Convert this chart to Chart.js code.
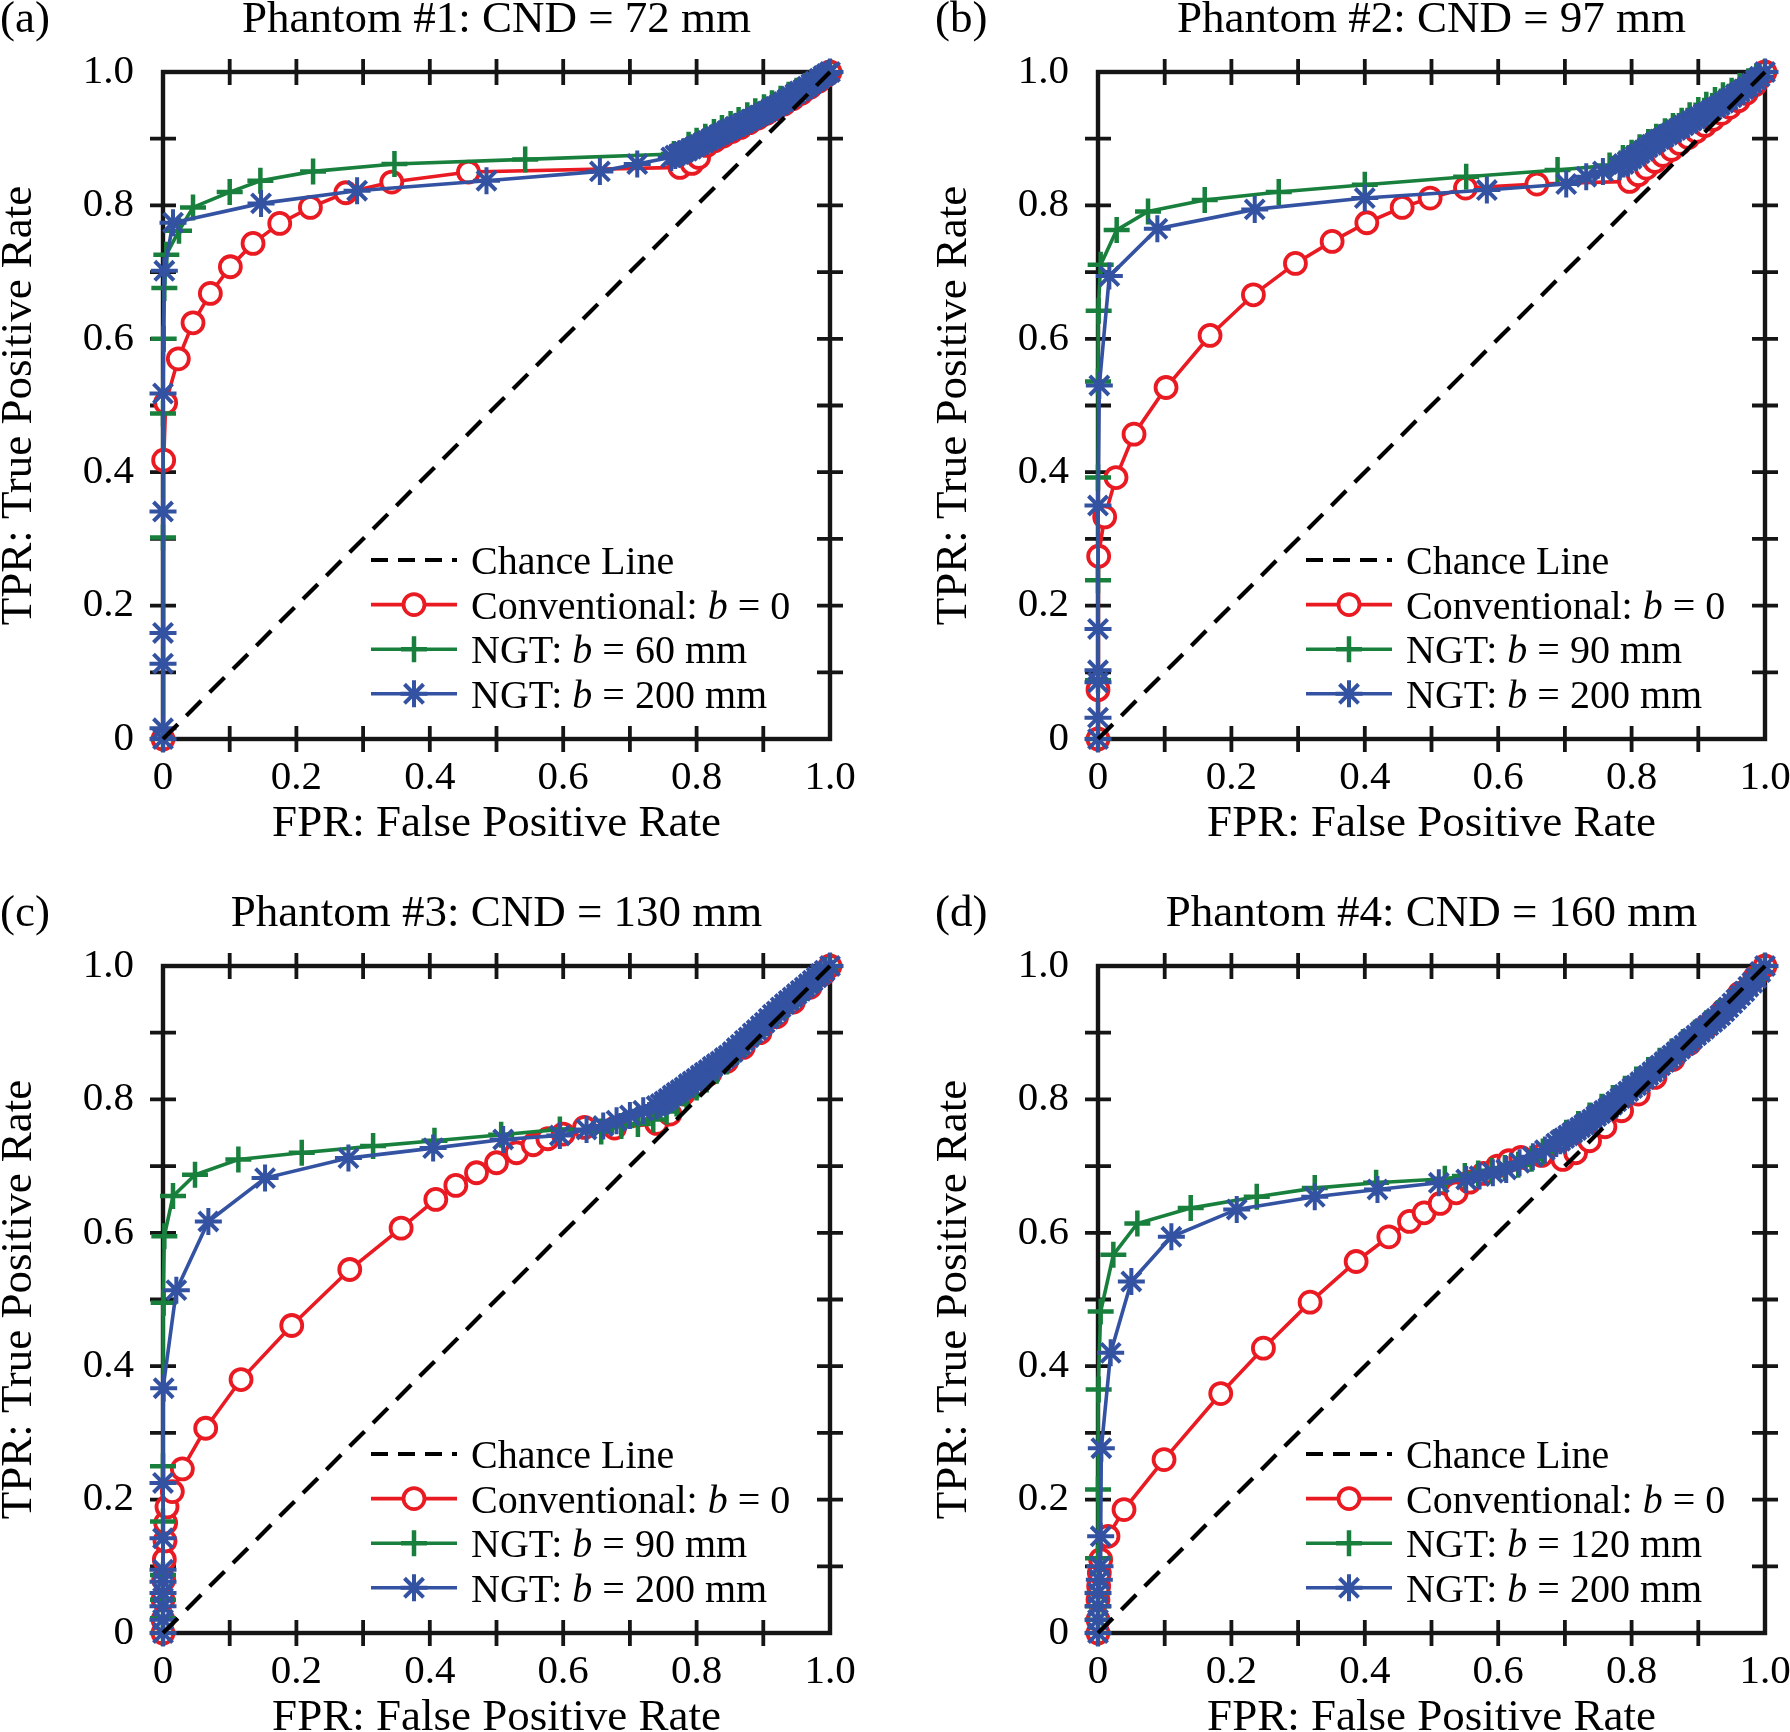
<!DOCTYPE html>
<html>
<head>
<meta charset="utf-8">
<title>ROC curves, phantoms 1-4</title>
<script src="https://cdn.jsdelivr.net/npm/chart.js@4.4.1/dist/chart.umd.min.js"></script>
<style>
  html, body { margin: 0; padding: 0; background: #fff; }
  body { width: 1790px; height: 1732px; position: relative; overflow: hidden; }
  canvas { position: absolute; }
</style>
</head>
<body>
<canvas id="panelA" width="855" height="850" style="left:0px;top:0px"></canvas>
<canvas id="panelB" width="855" height="850" style="left:935px;top:0px"></canvas>
<canvas id="panelC" width="855" height="850" style="left:0px;top:894px"></canvas>
<canvas id="panelD" width="855" height="850" style="left:935px;top:894px"></canvas>
<script>
// ---- data: [FPR, TPR] pairs ----
const panelTags = ['(a)', '(b)', '(c)', '(d)'];
const panelTitles = [
  'Phantom #1: CND = 72 mm',
  'Phantom #2: CND = 97 mm',
  'Phantom #3: CND = 130 mm',
  'Phantom #4: CND = 160 mm'
];
const ngtWidths = ['60 mm', '90 mm', '90 mm', '120 mm'];
const axisTickLabels = ['0', '', '0.2', '', '0.4', '', '0.6', '', '0.8', '', '1.0'];
const chanceLine = [[0, 0], [1, 1]];

// Phantom #1
const convA = [[0,0],[0.001,0.418],[0.004,0.504],[0.023,0.570],[0.045,0.624],[0.071,0.668],[0.101,0.708],[0.135,0.743],[0.175,0.773],[0.221,0.797],[0.274,0.819],[0.343,0.835],[0.458,0.850],[0.775,0.857],[0.793,0.863],[0.803,0.872],[0.815,0.890],[0.827,0.897],[0.840,0.904],[0.853,0.911],[0.866,0.917],[0.879,0.924],[0.892,0.931],[0.905,0.938],[0.918,0.945],[0.931,0.952],[0.944,0.960],[0.957,0.968],[0.970,0.977],[0.983,0.986],[0.995,0.995],[1,1]];
const ngtA = [[0,0],[0,0.302],[0,0.488],[0.001,0.600],[0.002,0.676],[0.005,0.726],[0.024,0.762],[0.045,0.797],[0.100,0.820],[0.146,0.837],[0.225,0.851],[0.347,0.862],[0.543,0.869],[0.766,0.877],[0.788,0.891],[0.800,0.897],[0.813,0.903],[0.826,0.910],[0.838,0.916],[0.851,0.922],[0.863,0.928],[0.876,0.935],[0.888,0.941],[0.901,0.947],[0.913,0.953],[0.926,0.960],[0.938,0.966],[0.950,0.972],[0.963,0.979],[0.975,0.985],[0.988,0.992],[1,1]];
const ngt200A = [[0,0],[0,0.016],[0,0.113],[0,0.159],[0,0.341],[0,0.518],[0.002,0.702],[0.015,0.774],[0.147,0.803],[0.291,0.822],[0.485,0.837],[0.655,0.851],[0.711,0.862],[0.762,0.872],
  [0.768,0.875],[0.774,0.877],[0.780,0.880],[0.786,0.882],[0.792,0.885],[0.798,0.888],[0.804,0.891],[0.810,0.894],[0.816,0.897],[0.822,0.900],[0.828,0.903],[0.834,0.906],[0.840,0.909],[0.846,0.912],[0.852,0.915],[0.858,0.918],[0.864,0.920],[0.870,0.923],[0.876,0.926],[0.882,0.929],[0.888,0.932],[0.894,0.935],[0.900,0.938],[0.906,0.941],[0.912,0.945],[0.918,0.948],[0.924,0.951],[0.930,0.955],[0.936,0.959],[0.942,0.963],[0.948,0.967],[0.954,0.971],[0.960,0.974],[0.966,0.978],[0.972,0.982],[0.978,0.986],[0.984,0.990],[0.990,0.994],[0.995,0.997],[1,1]];

// Phantom #2
const convB = [[0,0],[0,0.074],[0.001,0.274],[0.010,0.333],[0.027,0.392],[0.054,0.457],[0.102,0.527],[0.168,0.605],[0.233,0.666],[0.296,0.713],[0.351,0.746],[0.403,0.774],[0.456,0.797],[0.498,0.811],[0.551,0.826],[0.658,0.832],[0.797,0.836],[0.810,0.846],[0.822,0.856],[0.835,0.866],[0.847,0.875],[0.860,0.884],[0.872,0.893],[0.885,0.902],[0.897,0.911],[0.910,0.920],[0.922,0.929],[0.935,0.938],[0.947,0.947],[0.960,0.957],[0.972,0.968],[0.985,0.981],[1,1]];
const ngtB = [[0,0],[0,0.088],[0,0.238],[0,0.392],[0,0.536],[0.001,0.642],[0.004,0.711],[0.028,0.763],[0.075,0.791],[0.160,0.808],[0.271,0.820],[0.400,0.831],[0.552,0.843],[0.689,0.853],[0.767,0.860],[0.787,0.871],[0.800,0.879],[0.812,0.887],[0.825,0.895],[0.837,0.903],[0.850,0.911],[0.862,0.919],[0.875,0.927],[0.887,0.935],[0.900,0.943],[0.912,0.951],[0.925,0.958],[0.937,0.965],[0.950,0.972],[0.962,0.979],[0.975,0.986],[0.987,0.993],[1,1]];
const ngt200B = [[0,0],[0,0.032],[0,0.085],[0,0.103],[0,0.165],[0,0.350],[0.002,0.530],[0.017,0.694],[0.089,0.765],[0.235,0.794],[0.400,0.811],[0.583,0.823],[0.702,0.832],[0.732,0.843],[0.757,0.851],[0.782,0.858],
  [0.788,0.862],[0.794,0.866],[0.800,0.870],[0.806,0.874],[0.812,0.878],[0.818,0.882],[0.824,0.887],[0.830,0.891],[0.836,0.895],[0.842,0.899],[0.848,0.902],[0.854,0.906],[0.860,0.909],[0.866,0.913],[0.872,0.916],[0.878,0.920],[0.884,0.923],[0.890,0.927],[0.896,0.930],[0.902,0.933],[0.908,0.937],[0.914,0.940],[0.920,0.943],[0.926,0.947],[0.932,0.950],[0.938,0.954],[0.944,0.958],[0.950,0.962],[0.956,0.966],[0.962,0.970],[0.968,0.974],[0.974,0.978],[0.980,0.983],[0.986,0.988],[0.992,0.993],[1,1]];

// Phantom #3
const convC = [[0,0],[0,0.020],[0,0.050],[0.001,0.080],[0.002,0.110],[0.003,0.138],[0.004,0.165],[0.006,0.189],[0.014,0.212],[0.029,0.246],[0.064,0.307],[0.117,0.380],[0.193,0.461],[0.280,0.545],[0.357,0.607],[0.409,0.650],[0.439,0.671],[0.470,0.690],[0.500,0.705],[0.530,0.720],[0.555,0.732],[0.577,0.741],[0.600,0.748],[0.632,0.758],[0.677,0.757],[0.740,0.764],[0.760,0.778],[0.780,0.808],[0.800,0.823],[0.820,0.839],[0.845,0.857],[0.870,0.878],[0.895,0.900],[0.920,0.924],[0.945,0.946],[0.970,0.968],[0.990,0.988],[1,1]];
const ngtC = [[0,0],[0,0.022],[0,0.050],[0,0.087],[0,0.167],[0,0.250],[0.001,0.495],[0.002,0.595],[0.015,0.655],[0.048,0.687],[0.113,0.710],[0.208,0.720],[0.315,0.730],[0.407,0.738],[0.507,0.747],[0.595,0.755],[0.657,0.752],[0.687,0.760],[0.712,0.763],[0.735,0.770],[0.755,0.782],[0.770,0.794],[0.785,0.806],[0.800,0.818],[0.815,0.830],[0.830,0.843],[0.845,0.857],[0.860,0.871],[0.875,0.886],[0.890,0.900],[0.905,0.914],[0.920,0.928],[0.935,0.941],[0.950,0.954],[0.965,0.967],[0.980,0.981],[0.993,0.994],[1,1]];
const ngt200C = [[0,0],[0,0.020],[0,0.040],[0,0.060],[0,0.077],[0,0.095],[0,0.142],[0,0.225],[0.001,0.367],[0.020,0.514],[0.068,0.617],[0.153,0.682],[0.278,0.712],[0.405,0.727],[0.510,0.740],[0.595,0.746],[0.635,0.755],[0.660,0.760],[0.680,0.768],[0.700,0.776],[0.720,0.783],[0.740,0.790],
  [0.746,0.793],[0.752,0.797],[0.758,0.801],[0.764,0.806],[0.770,0.810],[0.776,0.814],[0.782,0.818],[0.788,0.823],[0.794,0.827],[0.800,0.831],[0.806,0.836],[0.812,0.840],[0.818,0.844],[0.824,0.849],[0.830,0.853],[0.836,0.857],[0.842,0.862],[0.848,0.866],[0.854,0.871],[0.860,0.877],[0.866,0.882],[0.872,0.888],[0.878,0.893],[0.884,0.899],[0.890,0.904],[0.896,0.910],[0.902,0.915],[0.908,0.921],[0.914,0.927],[0.920,0.932],[0.926,0.938],[0.932,0.943],[0.938,0.948],[0.944,0.953],[0.950,0.958],[0.956,0.963],[0.962,0.968],[0.968,0.973],[0.974,0.978],[0.980,0.983],[0.986,0.988],[0.992,0.993],[1,1]];

// Phantom #4
const convD = [[0,0],[0,0.020],[0,0.050],[0.001,0.070],[0.002,0.090],[0.004,0.110],[0.015,0.145],[0.039,0.185],[0.099,0.260],[0.184,0.359],[0.248,0.427],[0.318,0.496],[0.387,0.557],[0.436,0.594],[0.467,0.617],[0.489,0.630],[0.513,0.644],[0.537,0.660],[0.557,0.676],[0.578,0.689],[0.599,0.700],[0.616,0.708],[0.634,0.713],[0.665,0.716],[0.697,0.710],[0.716,0.720],[0.737,0.738],[0.760,0.759],[0.785,0.783],[0.810,0.808],[0.835,0.833],[0.862,0.860],[0.887,0.884],[0.912,0.909],[0.937,0.933],[0.962,0.959],[0.985,0.983],[1,1]];
const ngtD = [[0,0],[0,0.020],[0,0.040],[0,0.060],[0,0.112],[0,0.215],[0.001,0.365],[0.004,0.482],[0.023,0.567],[0.059,0.614],[0.139,0.637],[0.238,0.654],[0.325,0.667],[0.417,0.675],[0.520,0.681],[0.550,0.685],[0.570,0.689],[0.590,0.693],[0.610,0.697],[0.630,0.702],[0.650,0.711],[0.667,0.722],[0.685,0.736],[0.702,0.750],[0.720,0.763],[0.737,0.776],[0.755,0.789],[0.772,0.802],[0.790,0.816],[0.807,0.830],[0.825,0.844],[0.842,0.858],[0.860,0.872],[0.877,0.886],[0.895,0.900],[0.912,0.914],[0.930,0.929],[0.947,0.945],[0.965,0.961],[0.982,0.979],[1,1]];
const ngt200D = [[0,0],[0,0.020],[0,0.040],[0,0.060],[0.002,0.080],[0.003,0.100],[0.004,0.145],[0.005,0.277],[0.019,0.420],[0.050,0.527],[0.110,0.594],[0.208,0.635],[0.325,0.654],[0.419,0.665],[0.511,0.675],[0.552,0.680],[0.572,0.685],[0.592,0.690],[0.612,0.695],[0.632,0.705],[0.652,0.714],[0.670,0.724],[0.687,0.734],
  [0.693,0.738],[0.699,0.742],[0.705,0.746],[0.711,0.750],[0.717,0.754],[0.723,0.758],[0.729,0.762],[0.735,0.766],[0.741,0.770],[0.747,0.775],[0.753,0.779],[0.759,0.783],[0.765,0.787],[0.771,0.792],[0.777,0.797],[0.783,0.802],[0.789,0.807],[0.795,0.812],[0.801,0.817],[0.807,0.821],[0.813,0.826],[0.819,0.831],[0.825,0.836],[0.831,0.841],[0.837,0.846],[0.843,0.851],[0.849,0.856],[0.855,0.861],[0.861,0.866],[0.867,0.871],[0.873,0.876],[0.879,0.881],[0.885,0.886],[0.891,0.891],[0.897,0.896],[0.903,0.901],[0.909,0.906],[0.915,0.911],[0.921,0.916],[0.927,0.921],[0.933,0.926],[0.939,0.932],[0.945,0.938],[0.951,0.944],[0.957,0.950],[0.963,0.956],[0.969,0.962],[0.975,0.969],[0.981,0.975],[0.987,0.982],[0.993,0.991],[1,1]];

const RED = '#EA1A22';
const GREEN = '#18803C';
const BLUE = '#3452A2';
const SERIF = '"Liberation Serif", "Times New Roman", serif';

Chart.defaults.font.family = SERIF;
Chart.defaults.color = '#000';

const toXY = pts => pts.map(p => ({ x: p[0], y: p[1] }));

// box + ticks crossing the frame on all four sides (drawn under the curves)
const framePlugin = {
  id: 'frame',
  beforeDatasetsDraw(chart) {
    const { ctx, chartArea: a, scales } = chart;
    ctx.save();
    ctx.strokeStyle = '#151515';
    ctx.lineWidth = 4.4;
    ctx.strokeRect(a.left, a.top, a.right - a.left, a.bottom - a.top);
    ctx.lineWidth = 3.8;
    ctx.beginPath();
    scales.x.ticks.forEach(t => {
      if (t.value < 0.01 || t.value > 0.99) return;
      const px = scales.x.getPixelForValue(t.value);
      ctx.moveTo(px, a.bottom - 13); ctx.lineTo(px, a.bottom + 13);
      ctx.moveTo(px, a.top - 13); ctx.lineTo(px, a.top + 13);
    });
    scales.y.ticks.forEach(t => {
      if (t.value < 0.01 || t.value > 0.99) return;
      const py = scales.y.getPixelForValue(t.value);
      ctx.moveTo(a.left - 13, py); ctx.lineTo(a.left + 13, py);
      ctx.moveTo(a.right - 13, py); ctx.lineTo(a.right + 13, py);
    });
    ctx.stroke();
    ctx.restore();
  }
};

// panel tag + in-plot legend with italic "b"
const legendPlugin = {
  id: 'rocLegend',
  afterDraw(chart, args, opts) {
    const { ctx, chartArea: a } = chart;
    ctx.save();
    ctx.fillStyle = '#000';
    ctx.font = '45px ' + SERIF;
    ctx.textBaseline = 'alphabetic';
    ctx.fillText(opts.tag, 0, 32);

    const x0 = a.right - 459, x1 = a.right - 373, xm = (x0 + x1) / 2, tx = a.right - 359;
    opts.entries.forEach((e, i) => {
      const yy = a.bottom - 179 + i * 44.6;
      ctx.strokeStyle = e.color;
      ctx.lineWidth = e.width;
      ctx.setLineDash(e.dash || []);
      ctx.beginPath();
      ctx.moveTo(x0, yy);
      ctx.lineTo(x1, yy);
      ctx.stroke();
      ctx.setLineDash([]);
      if (e.style) {
        ctx.fillStyle = e.fill;
        ctx.lineWidth = e.markerWidth;
        Chart.helpers.drawPoint(ctx, { pointStyle: e.style, radius: e.radius, borderWidth: e.markerWidth, rotation: 0 }, xm, yy);
      }
      let cx = tx;
      ctx.fillStyle = '#000';
      e.parts.forEach(p => {
        ctx.font = (p.italic ? 'italic ' : '') + '40px ' + SERIF;
        ctx.fillText(p.text, cx, yy + 14);
        cx += ctx.measureText(p.text).width;
      });
    });
    ctx.restore();
  }
};

function axis(titleText, isX) {
  return {
    type: 'linear',
    position: isX ? 'bottom' : 'left',
    min: 0,
    max: 1,
    grid: { display: false, drawTicks: false },
    border: { display: false },
    ticks: {
      stepSize: 0.1,
      autoSkip: false,
      maxRotation: 0,
      padding: isX ? 15 : 29,
      color: '#000',
      font: { size: 41 },
      callback: (v, i) => axisTickLabels[i]
    },
    title: {
      display: true,
      text: titleText,
      color: '#000',
      font: { size: 45, lineHeight: isX ? 1.1 : 0.8 },
      padding: isX ? { top: 0, bottom: 1 } : { top: 1, bottom: 0 }
    },
    afterFit: scale => {
      if (isX) {
        scale.height = 111;
        scale.paddingLeft = 0;
        scale.paddingRight = 0;
      } else {
        scale.width = 163;
        scale.paddingTop = 0;
        scale.paddingBottom = 0;
      }
    }
  };
}

function series(label, pts, color, style, radius, markerWidth, fill, order) {
  return {
    label,
    data: toXY(pts),
    showLine: true,
    borderColor: color,
    borderWidth: 3.6,
    pointStyle: style,
    pointRadius: radius,
    pointBorderWidth: markerWidth,
    pointBorderColor: color,
    pointBackgroundColor: fill,
    order,
    clip: false
  };
}

function buildPanel(canvasId, idx, conv, ngt, ngt200) {
  new Chart(document.getElementById(canvasId), {
    type: 'scatter',
    data: {
      datasets: [
        {
          label: 'Chance Line',
          data: toXY(chanceLine),
          showLine: true,
          borderColor: '#000',
          borderWidth: 4.2,
          borderDash: [21, 12],
          pointRadius: 0,
          order: 0,
          clip: false
        },
        series('NGT: b = 200 mm', ngt200, BLUE, 'star', 13.5, 4, BLUE, 1),
        series('NGT: b = ' + ngtWidths[idx], ngt, GREEN, 'cross', 13, 4.5, GREEN, 2),
        series('Conventional: b = 0', conv, RED, 'circle', 10.5, 3.8, '#fff', 3)
      ]
    },
    options: {
      responsive: false,
      animation: false,
      events: [],
      layout: { padding: { left: 0, right: 25, top: 0, bottom: 0 } },
      scales: {
        x: axis('FPR: False Positive Rate', true),
        y: axis('TPR: True Positive Rate', false)
      },
      plugins: {
        legend: { display: false },
        tooltip: { enabled: false },
        title: {
          display: true,
          text: panelTitles[idx],
          fullSize: false,
          color: '#000',
          font: { size: 45, lineHeight: 0.75, weight: 'normal' },
          padding: { top: 3.5, bottom: 34.75 }
        },
        rocLegend: {
          tag: panelTags[idx],
          entries: [
            { color: '#000', width: 4.2, dash: [17, 10], parts: [{ text: 'Chance Line' }] },
            { color: RED, width: 3.6, style: 'circle', radius: 10.5, markerWidth: 3.8, fill: '#fff',
              parts: [{ text: 'Conventional: ' }, { text: 'b', italic: true }, { text: ' = 0' }] },
            { color: GREEN, width: 3.6, style: 'cross', radius: 13, markerWidth: 4.5, fill: GREEN,
              parts: [{ text: 'NGT: ' }, { text: 'b', italic: true }, { text: ' = ' + ngtWidths[idx] }] },
            { color: BLUE, width: 3.6, style: 'star', radius: 13.5, markerWidth: 4, fill: BLUE,
              parts: [{ text: 'NGT: ' }, { text: 'b', italic: true }, { text: ' = 200 mm' }] }
          ]
        }
      }
    },
    plugins: [framePlugin, legendPlugin]
  });
}

buildPanel('panelA', 0, convA, ngtA, ngt200A);
buildPanel('panelB', 1, convB, ngtB, ngt200B);
buildPanel('panelC', 2, convC, ngtC, ngt200C);
buildPanel('panelD', 3, convD, ngtD, ngt200D);
</script>
</body>
</html>
